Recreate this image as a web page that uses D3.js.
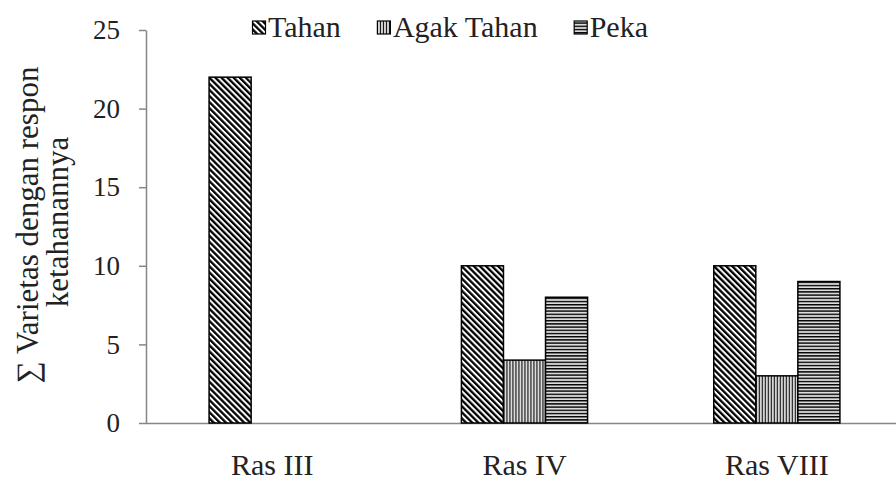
<!DOCTYPE html>
<html>
<head>
<meta charset="utf-8">
<title>Respon ketahanan varietas</title>
<script src="https://d3js.org/d3.v7.min.js"></script>
<style>
  body { margin: 0; background: #fff; }
  svg text { font-family: "Liberation Serif"; fill: #222; }
  .axis path, .axis line { stroke: #868686; stroke-width: 1.5; }
</style>
</head>
<body>
<svg id="chart" width="896" height="481"></svg>
<script>
// data
var categories = ["Ras III", "Ras IV", "Ras VIII"];
var series = ["Tahan", "Agak Tahan", "Peka"];
var tahan = [22, 10, 10];
var agakTahan = [0, 4, 3];
var peka = [0, 8, 9];
var yTicks = [0, 5, 10, 15, 20, 25];

var values = [tahan, agakTahan, peka];
var data = categories.map(function(c, i) {
  return { cat: c, vals: series.map(function(s, j) { return { key: s, value: values[j][i] }; }) };
});

var serif = "Liberation Serif";
var svg = d3.select("#chart");
var plotLeft = 146, plotBottom = 423, plotTop = 30;

var x = d3.scaleBand().domain(categories).range([plotLeft, 903]).paddingInner(0.5).paddingOuter(0.25);
var xSub = d3.scaleBand().domain(series).range([0, x.bandwidth()]);
var y = d3.scaleLinear().domain([0, 25]).range([plotBottom, plotTop]);

// hatch patterns
var defs = svg.append("defs");
var p1 = defs.append("pattern").attr("id", "pat0").attr("patternUnits", "userSpaceOnUse")
  .attr("width", 4.3).attr("height", 4.3).attr("patternTransform", "rotate(-45)");
p1.append("rect").attr("width", 4.3).attr("height", 4.3).attr("fill", "#fff");
p1.append("rect").attr("width", 2.3).attr("height", 4.3).attr("fill", "#000");

var p2 = defs.append("pattern").attr("id", "pat1").attr("patternUnits", "userSpaceOnUse")
  .attr("width", 3).attr("height", 3);
p2.append("rect").attr("width", 3).attr("height", 3).attr("fill", "#e6e6e6");
p2.append("rect").attr("width", 1.1).attr("height", 3).attr("fill", "#000");

var p3 = defs.append("pattern").attr("id", "pat2").attr("patternUnits", "userSpaceOnUse")
  .attr("width", 3).attr("height", 3.2);
p3.append("rect").attr("width", 3).attr("height", 3.2).attr("fill", "#dcdcdc");
p3.append("rect").attr("width", 3).attr("height", 1.4).attr("fill", "#000");

function fillFor(key) { return "url(#pat" + series.indexOf(key) + ")"; }

// axes
var yAxis = svg.append("g").attr("class", "axis").attr("transform", "translate(" + plotLeft + ",0)")
  .call(d3.axisLeft(y).tickValues(yTicks).tickSize(7).tickSizeOuter(0).tickPadding(19));
yAxis.selectAll("text").attr("fill", "#222").style("font-family", serif).style("font-size", "27px");

var xAxis = svg.append("g").attr("class", "axis").attr("transform", "translate(0," + plotBottom + ")")
  .call(d3.axisBottom(x).tickSize(0).tickSizeOuter(0).tickPadding(0));
xAxis.select(".domain").attr("d", "M" + plotLeft + ",0.5H896");
xAxis.selectAll("text").attr("fill", "#222").attr("dy", "52px")
  .style("font-family", serif).style("font-size", "30px");

// bars
svg.append("g").selectAll("g").data(data).join("g")
  .attr("transform", function(d) { return "translate(" + x(d.cat) + ",0)"; })
  .selectAll("rect").data(function(d) { return d.vals.filter(function(v) { return v.value > 0; }); })
  .join("rect")
  .attr("x", function(d) { return xSub(d.key); })
  .attr("y", function(d) { return y(d.value); })
  .attr("width", xSub.bandwidth())
  .attr("height", function(d) { return y(0) - y(d.value); })
  .attr("fill", function(d) { return fillFor(d.key); })
  .attr("stroke", "#000").attr("stroke-width", 1.5);

// y title, two lines
svg.append("text").attr("transform", "translate(38,225) rotate(-90)")
  .attr("text-anchor", "middle").style("font-family", serif).style("font-size", "31px")
  .text("\u2211 Varietas dengan respon");
svg.append("text").attr("transform", "translate(68,222) rotate(-90)")
  .attr("text-anchor", "middle").style("font-family", serif).style("font-size", "31px")
  .text("ketahanannya");

// legend
var leg = svg.append("g");
var lx = 252;
series.forEach(function(s) {
  var g = leg.append("g").attr("transform", "translate(" + lx + ",0)");
  g.append("rect").attr("x", 0.5).attr("y", 21).attr("width", 13).attr("height", 13)
    .attr("fill", fillFor(s)).attr("stroke", "#000").attr("stroke-width", 1.2);
  var t = g.append("text").attr("x", 16).attr("y", 37)
    .style("font-family", serif).style("font-size", "30px").text(s);
  lx += 16 + t.node().getComputedTextLength() + 36;
});
</script>
</body>
</html>
